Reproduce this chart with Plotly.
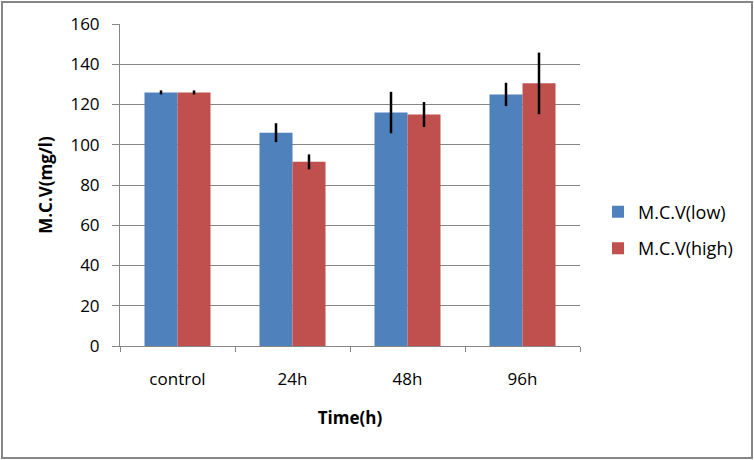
import plotly.graph_objects as go

# data
times = ["control", "24h", "48h", "96h"]
mcv_low = [126, 106, 116, 125]
mcv_low_err = [1, 4.7, 10.3, 5.8]
mcv_high = [126, 91.5, 115, 130.5]
mcv_high_err = [1, 3.7, 6.2, 15.3]

W, H = 754, 460
L, R, T, B = 120, 174, 24, 114
pw, ph = W - L - R, H - T - B

font = "Open Sans, sans-serif"

fig = go.Figure()

fig.add_trace(go.Bar(
    x=times, y=mcv_low, name="M.C.V(low)",
    marker=dict(color="#4F81BD", line=dict(width=0)),
    error_y=dict(type="data", array=mcv_low_err, color="black", thickness=2.5, width=0),
    legendgroup="a",
))
fig.add_trace(go.Bar(
    x=times, y=mcv_high, name="M.C.V(high)",
    marker=dict(color="#C0504D", line=dict(width=0)),
    error_y=dict(type="data", array=mcv_high_err, color="black", thickness=2.5, width=0),
    legendgroup="b",
))

# grey frame round the whole picture (pixel edges converted to paper coords)
fig.add_shape(type="rect", xref="paper", yref="paper",
              x0=(2 - L) / pw, x1=(752 - L) / pw,
              y0=(T + ph - 458) / ph, y1=(T + ph - 2) / ph,
              line=dict(color="#868686", width=2), layer="below")

fig.update_layout(
    width=W, height=H,
    margin=dict(l=L, r=R, t=T, b=B, autoexpand=False),
    paper_bgcolor="white", plot_bgcolor="white",
    barmode="group", bargap=0.426, bargroupgap=0,
    font=dict(family=font, size=17, color="black"),
    showlegend=True,
    legend=dict(x=(598 - L) / pw, y=0.36, xanchor="left", yanchor="middle",
                font=dict(size=18), tracegroupgap=10, bgcolor="rgba(0,0,0,0)"),
    xaxis=dict(
        showline=True, linecolor="#868686", linewidth=1,
        ticks="outside", tickson="boundaries", ticklen=5, tickcolor="#868686",
        tickfont=dict(size=17), ticklabelstandoff=18,
        title=dict(text="<b>Time(h)</b>", font=dict(size=17), standoff=22),
    ),
    yaxis=dict(
        range=[0, 160], dtick=20,
        showline=True, linecolor="#868686", linewidth=1,
        showgrid=True, gridcolor="#868686", gridwidth=1,
        ticks="outside", ticklen=7, tickcolor="#868686",
        tickfont=dict(size=17), ticklabelstandoff=9,
        zeroline=False,
        title=dict(text="<b>M.C.V(mg/l)</b>", font=dict(size=17), standoff=13),
    ),
)

fig.write_html("out.html", config={"displayModeBar": False},
               post_script="document.body.style.margin='0px';")
